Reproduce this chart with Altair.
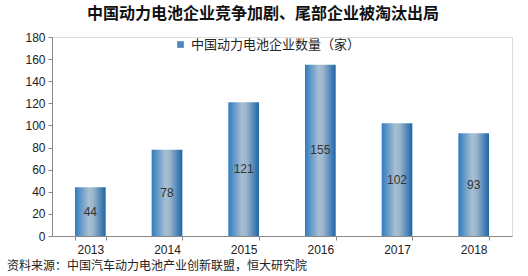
import altair as alt
import pandas as pd

years = ["2013", "2014", "2015", "2016", "2017", "2018"]
counts = [44, 78, 121, 155, 102, 93]
series_name = "中国动力电池企业数量（家）"
title_text = "中国动力电池企业竞争加剧、尾部企业被淘汰出局"
source_text = "资料来源：中国汽车动力电池产业创新联盟，恒大研究院"
y_ticks = [0, 20, 40, 60, 80, 100, 120, 140, 160, 180]

df = pd.DataFrame({"year": years, "count": counts, "series": [series_name] * len(years)})
df["half"] = df["count"] / 2

CJK = "Noto Sans CJK SC"

grad = alt.Gradient(
    gradient="linear", x1=0, x2=1, y1=0, y2=0,
    stops=[
        alt.GradientStop(offset=0, color="#2f7cc0"),
        alt.GradientStop(offset=0.45, color="#a9bfd2"),
        alt.GradientStop(offset=0.6, color="#98b4cc"),
        alt.GradientStop(offset=1, color="#1e65a8"),
    ],
)

x_axis = alt.Axis(labelAngle=0, tickBand="extent", labelFont="Liberation Sans",
                  labelFontSize=12, labelColor="#222", domainColor="#888",
                  tickColor="#888", tickSize=4, labelPadding=4)
x_scale = alt.Scale(paddingInner=0.6, paddingOuter=0.3)
y_axis = alt.Axis(values=y_ticks, grid=False, labelOverlap=False, tickCount=10,
                  labelFont="Liberation Sans",
                  labelFontSize=12, labelColor="#222", domainColor="#888",
                  tickColor="#888", tickSize=4, labelPadding=3)
y_scale = alt.Scale(domain=[0, 180], nice=False)

bars = alt.Chart(df).mark_bar(fill=grad).encode(
    x=alt.X("year:N", sort=years, title=None, scale=x_scale, axis=x_axis),
    y=alt.Y("count:Q", title=None, scale=y_scale, axis=y_axis),
)

legend_layer = alt.Chart(df).mark_square(opacity=0).encode(
    color=alt.Color("series:N", scale=alt.Scale(range=["#4f86bd"]),
                    legend=alt.Legend(title=None, orient="none", legendX=122, legendY=1,
                                      symbolType="square", symbolSize=45, symbolOpacity=1,
                                      symbolStrokeWidth=0, labelLimit=0,
                                      labelFont=CJK, labelFontSize=13, labelColor="#222")),
)

labels = alt.Chart(df).mark_text(font="Liberation Sans", fontSize=12, color="#333").encode(
    x=alt.X("year:N", sort=years, title=None, scale=x_scale, axis=x_axis),
    y=alt.Y("half:Q", title=None, scale=y_scale, axis=y_axis),
    text=alt.Text("count:Q"),
)

source = alt.Chart(pd.DataFrame({"t": [source_text]})).mark_text(
    font=CJK, fontSize=12, color="#222", align="left", baseline="middle"
).encode(x=alt.value(-45), y=alt.value(229), text="t:N")

chart = alt.layer(bars, labels, legend_layer, source).properties(
    width=460, height=199,
    title=alt.TitleParams(title_text, font=CJK, fontSize=16, fontWeight="bold",
                          color="#111", anchor="middle", frame="group", dx=-19, offset=9),
    autosize=alt.AutoSizeParams(type="none"),
    padding={"left": 52, "top": 37, "right": 16, "bottom": 40},
).configure_view(stroke=None).configure(background="white")

chart.save("out.html", embed_options={"renderer": "svg", "actions": False})
